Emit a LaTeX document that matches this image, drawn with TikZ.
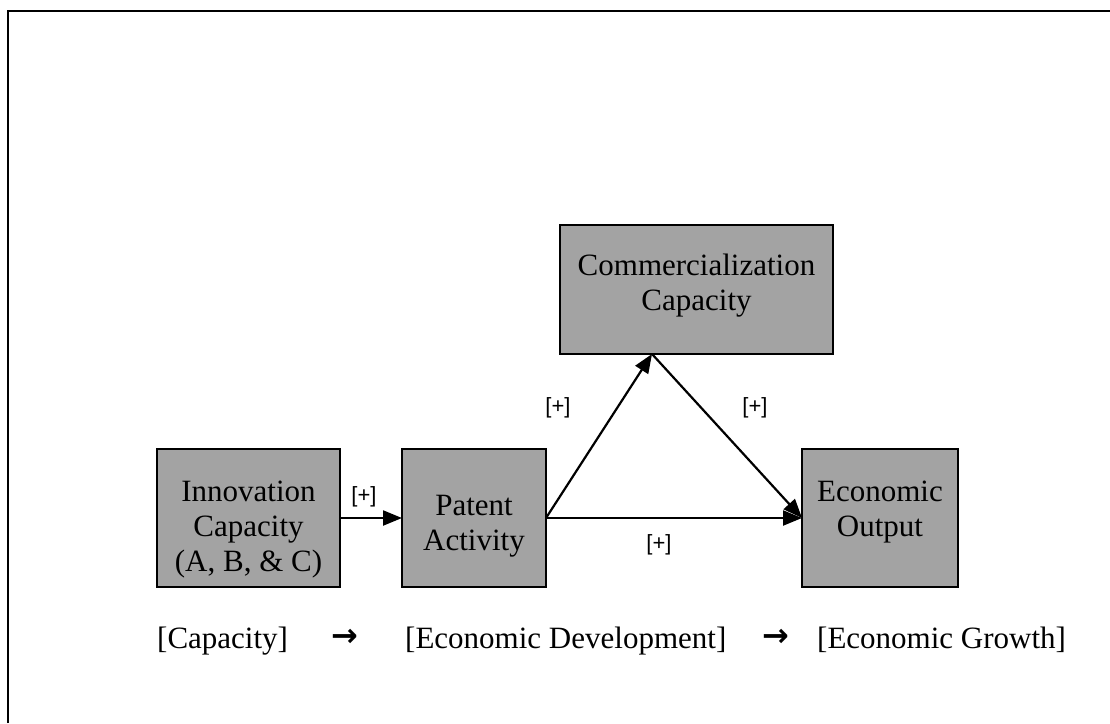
\documentclass[tikz,border=0pt]{standalone}
\usepackage{fontspec}
\setmainfont{Liberation Serif}
\newfontfamily\labfont{Liberation Sans}
\newfontfamily\arrfont{DejaVu Sans}
\usetikzlibrary{arrows.meta,calc}
\begin{document}
\begin{tikzpicture}[x=1pt,y=-1pt,
  box/.style={draw=black, line width=2.2pt, fill=black!36, inner sep=0pt, outer sep=0pt},
  boxtext/.style={align=center, inner sep=0pt, font=\fontsize{31}{35}\selectfont},
  plus/.style={inner sep=0pt, font=\labfont\fontsize{22}{24}\selectfont},
  flow/.style={line width=2.2pt, -{Triangle[length=19pt,width=15pt]}},
  bottomtext/.style={anchor=base west, inner sep=0pt, font=\fontsize{31}{35}\selectfont},
  bottomarrow/.style={anchor=base, inner sep=0pt, font=\arrfont\bfseries\fontsize{32}{34}\selectfont}
]
\useasboundingbox (0,0) rectangle (1110,723);
% frame
\draw[line width=2.5pt] (8,723) -- (8,11) -- (1110,11);

% boxes
\node[box, minimum width=183pt, minimum height=138pt] (inno) at (248.5,518) {};
\node[box, minimum width=144pt, minimum height=138pt] (pat) at (474,518) {};
\node[box, minimum width=156pt, minimum height=138pt] (econ) at (880,518) {};
\node[box, minimum width=273pt, minimum height=129pt] (comm) at (696.5,289.5) {};

\node[boxtext] (innot) at (248.5,530) {Innovation\\Capacity\\(A, B, \& C)};
\node[boxtext] (patt) at (474,526) {Patent\\Activity};
\node[boxtext] (econt) at (880,512) {Economic\\Output};
\node[boxtext] (commt) at (696.5,285.5) {Commercialization\\Capacity};

\coordinate (ctip) at (652,354);

% connectors
\draw[flow] (inno.east) -- (pat.west);
\draw[flow] (pat.east) -- (ctip);
\draw[flow] (ctip) -- (econ.west);
\draw[flow] (pat.east) -- (econ.west);

% labels
\node[plus] (l1) at (364,497) {[+]};
\node[plus] (l2) at (558,408) {[+]};
\node[plus] (l3) at (755,408) {[+]};
\node[plus] (l4) at (659,545) {[+]};

% bottom line
\node[bottomtext] (b1) at (157,648) {[Capacity]};
\node[bottomarrow] (a1) at (345,646) {→};
\node[bottomtext] (b2) at (405,648) {[Economic Development]};
\node[bottomarrow] (a2) at (776,646) {→};
\node[bottomtext] (b3) at (817,648) {[Economic Growth]};
\end{tikzpicture}
\end{document}
